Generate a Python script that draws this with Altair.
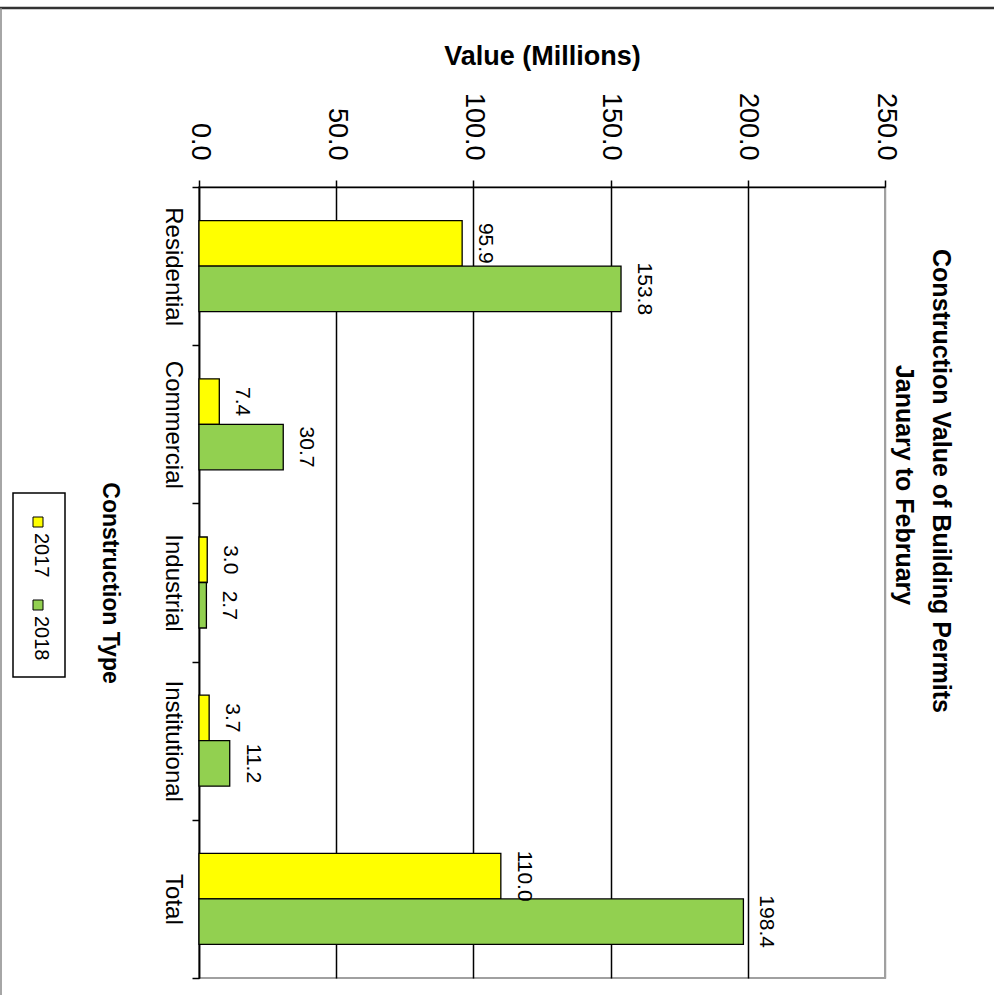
import altair as alt
import pandas as pd

categories = ["Residential", "Commercial", "Industrial", "Institutional", "Total"]
years = ["2017", "2018"]
values_2017 = [95.9, 7.4, 3.0, 3.7, 110.0]
values_2018 = [153.8, 30.7, 2.7, 11.2, 198.4]
x_ticks = [0, 50, 100, 150, 200, 250]
colors = ["#FFFF00", "#92D050"]
title_lines = ["Construction Value of Building Permits", "January to February"]

rows = []
for c, v1, v2 in zip(categories, values_2017, values_2018):
    rows.append({"type": c, "year": years[0], "value": v1})
    rows.append({"type": c, "year": years[1], "value": v2})
df = pd.DataFrame(rows)

SANS = "Liberation Sans, Arial, sans-serif"

W, H = 686, 791
PL, PT = 199, 187

x_enc = alt.X(
    "value:Q",
    scale=alt.Scale(domain=[0, 250], nice=False, zero=True),
    axis=alt.Axis(
        orient="top", values=x_ticks, format=".1f",
        title="Value (Millions)", titleFont=SANS, titleFontSize=27,
        titleFontWeight="bold", titleColor="black", titlePadding=22,
        labelAngle=90, labelAlign="right", labelBaseline="middle",
        labelFont=SANS, labelFontSize=27, labelColor="black",
        labelPadding=20, labelFlush=False, labelOverlap=False,
        tickSize=7, tickColor="black", tickWidth=1.5,
        domainColor="black", domainWidth=1.5,
        grid=True,
        gridColor=alt.condition("datum.value == 250", alt.value("#a0a0a0"), alt.value("black")),
        gridWidth=1.5,
    ),
)
y_enc = alt.Y(
    "type:N", sort=categories,
    scale=alt.Scale(paddingInner=0, paddingOuter=0),
    axis=alt.Axis(
        title="Construction Type", titleAngle=90, titleBaseline="top",
        titleFont=SANS, titleFontSize=23, titleFontWeight="bold",
        titleColor="black", titlePadding=40,
        labelAngle=90, labelAlign="center", labelBaseline="top",
        labelFont=SANS, labelFontSize=24, labelColor="black", labelPadding=8,
        tickSize=7, tickColor="black", tickWidth=1.5, tickBand="extent",
        domainColor="black", domainWidth=1.5, grid=False,
    ),
)
yoff = alt.YOffset("year:N", scale=alt.Scale(paddingInner=0, paddingOuter=0.738))

base = alt.Chart(df)
bars = base.mark_bar(stroke="black", strokeWidth=1.3).encode(
    x=x_enc, y=y_enc, yOffset=yoff,
    color=alt.Color("year:N", scale=alt.Scale(domain=years, range=colors), legend=None),
)
labels = base.mark_text(
    angle=90, align="center", baseline="alphabetic", dy=-17,
    font=SANS, fontSize=21, color="black",
).encode(
    x="value:Q", y=alt.Y("type:N", sort=categories), yOffset=yoff,
    text=alt.Text("value:Q", format=".1f"),
)

one = pd.DataFrame({"k": [0]})
layers = [bars, labels]

# legend (rotated, drawn by hand because Vega-Lite legends cannot rotate)
layers.append(alt.Chart(one).mark_rect(fill="white", stroke="black", strokeWidth=1.5).encode(
    x=alt.value(13 - PL), x2=alt.value(65 - PL), y=alt.value(493 - PT), y2=alt.value(677 - PT)))
for i, (yr, col) in enumerate(zip(years, colors)):
    off = i * 83
    layers.append(alt.Chart(one).mark_rect(fill=col, stroke="black", strokeWidth=1).encode(
        x=alt.value(33 - PL), x2=alt.value(43 - PL),
        y=alt.value(517 + off - PT), y2=alt.value(527 + off - PT)))
    layers.append(alt.Chart(one).mark_text(
        angle=90, align="left", baseline="middle", font=SANS, fontSize=20, color="black",
    ).encode(x=alt.value(41 - PL), y=alt.value(533 + off - PT), text=alt.value(yr)))

# rotated chart title (drawn as text so it can sit at the right edge)
for line, cx, cy in zip(title_lines, [941, 904], [481, 485]):
    layers.append(alt.Chart(one).mark_text(
        angle=90, align="center", baseline="middle", font=SANS, fontSize=25,
        fontWeight="bold", color="black",
    ).encode(x=alt.value(cx - PL), y=alt.value(cy - PT), text=alt.value(line)))

# outer frame
layers.append(alt.Chart(one).mark_rule(color="#333333", strokeWidth=2.5).encode(
    x=alt.value(-PL), x2=alt.value(994 - PL), y=alt.value(8 - PT)))
layers.append(alt.Chart(one).mark_rule(color="#888888", strokeWidth=1.5).encode(
    x=alt.value(1 - PL), y=alt.value(8 - PT), y2=alt.value(995 - PT)))

chart = alt.layer(*layers).properties(
    width=W, height=H,
    autosize=alt.AutoSizeParams(type="none"),
    padding={"left": PL, "top": PT, "right": 994 - PL - W, "bottom": 995 - PT - H},
).configure(background="white").configure_view(stroke="#a0a0a0", strokeWidth=2)

chart.save("out.html", embed_options={"renderer": "svg", "actions": False})
